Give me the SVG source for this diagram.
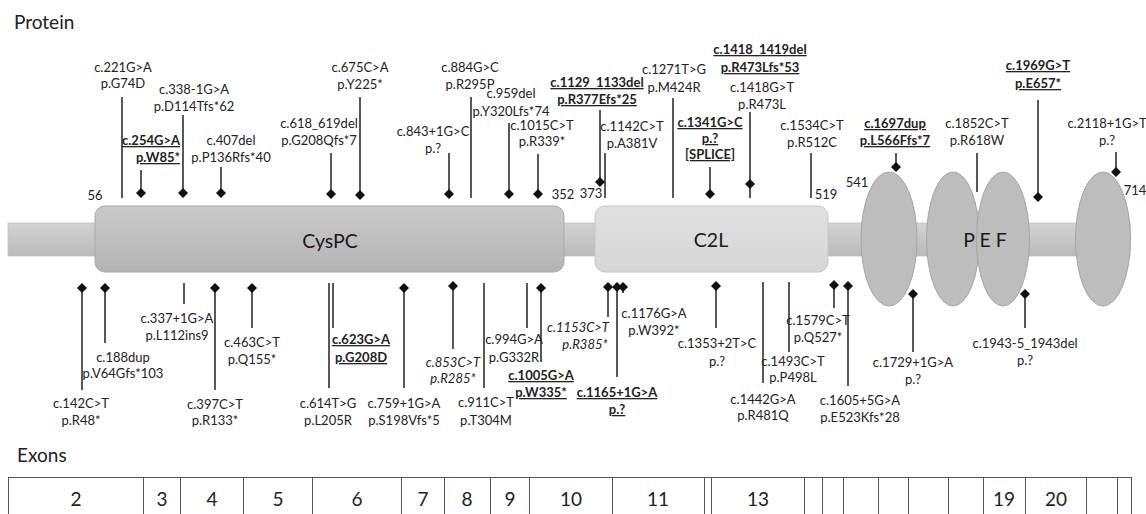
<svg xmlns="http://www.w3.org/2000/svg" xmlns:xlink="http://www.w3.org/1999/xlink" width="1146" height="514" viewBox="0 0 1146 514">
<style>
text{font-family:Lato,"Liberation Sans",sans-serif;fill:#222}
.t{font-size:13px;text-anchor:middle}
.b{font-weight:bold;text-decoration:underline}
.i{font-style:italic}
.h{font-size:19px}
.n{font-size:13px;text-anchor:middle}
.dom{font-size:19.5px;text-anchor:middle;fill:#1a1a1a}
.ex{font-size:19px;text-anchor:middle}
.ln{stroke:#222;stroke-width:1.5;fill:none}
.tb{stroke:#555;stroke-width:1;fill:none}
</style>
<defs>
<linearGradient id="gBar" x1="0" y1="0" x2="0" y2="1"><stop offset="0" stop-color="#d2d2d2"/><stop offset="1" stop-color="#bababa"/></linearGradient>
<linearGradient id="gCys" x1="0" y1="0" x2="0" y2="1"><stop offset="0" stop-color="#c9c9c9"/><stop offset="1" stop-color="#b4b4b4"/></linearGradient>
<linearGradient id="gC2" x1="0" y1="0" x2="0" y2="1"><stop offset="0" stop-color="#e0e0e0"/><stop offset="1" stop-color="#d6d6d6"/></linearGradient>
<path id="d" d="M0,-5L5,0L0,5L-5,0Z" fill="#111"/>
</defs>
<rect width="1146" height="514" fill="#fff"/>
<text class="h" x="14" y="29">Protein</text>
<text class="h" x="17" y="462">Exons</text>

<g id="protein">
<rect x="8" y="223" width="1122" height="33" fill="url(#gBar)" stroke="#c4c4c4" stroke-width="0.8"/>
<g id="cyspc"><rect x="95" y="206" width="469" height="66" rx="10" fill="url(#gCys)" stroke="#a9a9a9" stroke-width="1"/><text class="dom" x="330" y="248">CysPC</text></g>
<g id="c2l"><rect x="595" y="206" width="233" height="66" rx="10" fill="url(#gC2)" stroke="#c6c6c6" stroke-width="1"/><text class="dom" x="711" y="247">C2L</text></g>
<g id="pef">
<ellipse cx="889" cy="239" rx="28" ry="67" fill="#bdbdbd" stroke="#a5a5a5"/>
<ellipse cx="953" cy="239" rx="26.5" ry="67" fill="#bdbdbd" stroke="#a5a5a5"/>
<ellipse cx="1003" cy="239" rx="26.5" ry="67" fill="#bdbdbd" stroke="#a5a5a5"/>
<ellipse cx="1103" cy="239" rx="27.5" ry="67" fill="#bdbdbd" stroke="#a5a5a5"/>
<text class="dom" x="985" y="247">P E F</text>
</g>
<g id="positions">
<text class="n" x="95" y="200">56</text>
<text class="n" x="563" y="199">352</text>
<text class="n" x="591" y="198">373</text>
<text class="n" x="826" y="199">519</text>
<text class="n" x="857" y="187">541</text>
<text class="n" x="1135" y="195">714</text>
</g>
</g>

<g id="connectors">
<path class="ln" d="M122,97V198M141,170V193M183,115V193M221,167V193M331,153V194M360,97V195M449,153V194M471,97V198M509,123V194M538,154V194M600,110V182M605,153V198M673,98V198M710,167V194M750,112V198M811,153V198M896,153V167M977,153V192M1038,100V197M1116,152V172"/>
<path class="ln" d="M82,288V390M105,288V343M184,283V304M215,288V390M252,288V328M329,283V388M333,283V328M404,288V388M453,286V349M484,283V388M527,283V328M541,288V362M608,287V317M617,287V377M623,287V293M716,286V328M763,282V383M789,282V352M834,285V308M848,286V386M913,294V352M1025,294V328"/>
<use xlink:href="#d" x="141" y="193"/><use xlink:href="#d" x="183" y="193"/><use xlink:href="#d" x="221" y="193"/>
<use xlink:href="#d" x="331" y="194"/><use xlink:href="#d" x="360" y="195"/><use xlink:href="#d" x="449" y="194"/>
<use xlink:href="#d" x="509" y="194"/><use xlink:href="#d" x="538" y="194"/><use xlink:href="#d" x="600" y="182"/>
<use xlink:href="#d" x="710" y="194"/><use xlink:href="#d" x="750" y="184"/><use xlink:href="#d" x="896" y="167"/>
<use xlink:href="#d" x="1038" y="197"/><use xlink:href="#d" x="1116" y="172"/>
<use xlink:href="#d" x="82" y="288"/><use xlink:href="#d" x="105" y="288"/><use xlink:href="#d" x="215" y="288"/>
<use xlink:href="#d" x="252" y="288"/><use xlink:href="#d" x="404" y="288"/><use xlink:href="#d" x="453" y="286"/>
<use xlink:href="#d" x="541" y="288"/><use xlink:href="#d" x="608" y="287"/><use xlink:href="#d" x="617" y="287"/>
<use xlink:href="#d" x="623" y="287"/><use xlink:href="#d" x="716" y="286"/><use xlink:href="#d" x="834" y="285"/>
<use xlink:href="#d" x="848" y="286"/><use xlink:href="#d" x="913" y="294"/><use xlink:href="#d" x="1025" y="294"/>
</g>

<g id="top-labels">
<g id="m221"><text class="t" x="123" y="72">c.221G&gt;A</text><text class="t" x="123" y="88">p.G74D</text></g>
<g id="m254"><text class="t b" x="180" y="145" text-anchor="end" style="text-anchor:end">c.254G&gt;A</text><text class="t b" x="180" y="162" style="text-anchor:end">p.W85*</text></g>
<g id="m338"><text class="t" x="194" y="94">c.338-1G&gt;A</text><text class="t" x="194" y="111">p.D114Tfs*62</text></g>
<g id="m407"><text class="t" x="231" y="145">c.407del</text><text class="t" x="231" y="162">p.P136Rfs*40</text></g>
<g id="m618"><text class="t" x="319" y="128">c.618_619del</text><text class="t" x="319" y="145">p.G208Qfs*7</text></g>
<g id="m675"><text class="t" x="360" y="72">c.675C&gt;A</text><text class="t" x="360" y="89">p.Y225*</text></g>
<g id="m843"><text class="t" x="433" y="136">c.843+1G&gt;C</text><text class="t" x="433" y="153">p.?</text></g>
<g id="m884"><text class="t" x="470" y="72">c.884G&gt;C</text><text class="t" x="470" y="89">p.R295P</text></g>
<g id="m959"><text class="t" x="511" y="98">c.959del</text><text class="t" x="511" y="116">p.Y320Lfs*74</text></g>
<g id="m1015"><text class="t" x="542" y="130">c.1015C&gt;T</text><text class="t" x="542" y="146">p.R339*</text></g>
<g id="m1129"><text class="t b" x="597" y="87">c.1129_1133del</text><text class="t b" x="597" y="104">p.R377Efs*25</text></g>
<g id="m1142"><text class="t" x="632" y="131">c.1142C&gt;T</text><text class="t" x="632" y="148">p.A381V</text></g>
<g id="m1271"><text class="t" x="674" y="74">c.1271T&gt;G</text><text class="t" x="674" y="92">p.M424R</text></g>
<g id="m1341"><text class="t b" x="710" y="127">c.1341G&gt;C</text><text class="t b" x="710" y="143">p.?</text><text class="t b" x="710" y="159">[SPLICE]</text></g>
<g id="m1418del"><text class="t b" x="760" y="54">c.1418_1419del</text><text class="t b" x="760" y="72">p.R473Lfs*53</text></g>
<g id="m1418"><text class="t" x="762" y="92">c.1418G&gt;T</text><text class="t" x="762" y="109">p.R473L</text></g>
<g id="m1534"><text class="t" x="812" y="130">c.1534C&gt;T</text><text class="t" x="812" y="147">p.R512C</text></g>
<g id="m1697"><text class="t b" x="895" y="128">c.1697dup</text><text class="t b" x="895" y="145">p.L566Ffs*7</text></g>
<g id="m1852"><text class="t" x="977" y="128">c.1852C&gt;T</text><text class="t" x="977" y="145">p.R618W</text></g>
<g id="m1969"><text class="t b" x="1038" y="70">c.1969G&gt;T</text><text class="t b" x="1038" y="88">p.E657*</text></g>
<g id="m2118"><text class="t" x="1107" y="128">c.2118+1G&gt;T</text><text class="t" x="1107" y="145">p.?</text></g>
</g>

<g id="bottom-labels">
<g id="m142"><text class="t" x="81" y="408">c.142C&gt;T</text><text class="t" x="81" y="425">p.R48*</text></g>
<g id="m188"><text class="t" x="123" y="362">c.188dup</text><text class="t" x="123" y="378">p.V64Gfs*103</text></g>
<g id="m337"><text class="t" x="177" y="323">c.337+1G&gt;A</text><text class="t" x="177" y="340">p.L112ins9</text></g>
<g id="m397"><text class="t" x="215" y="409">c.397C&gt;T</text><text class="t" x="215" y="425">p.R133*</text></g>
<g id="m463"><text class="t" x="252" y="347">c.463C&gt;T</text><text class="t" x="252" y="364">p.Q155*</text></g>
<g id="m614"><text class="t" x="328" y="408">c.614T&gt;G</text><text class="t" x="328" y="425">p.L205R</text></g>
<g id="m623"><text class="t b" x="361" y="344">c.623G&gt;A</text><text class="t b" x="361" y="362">p.G208D</text></g>
<g id="m759"><text class="t" x="404" y="408">c.759+1G&gt;A</text><text class="t" x="404" y="425">p.S198Vfs*5</text></g>
<g id="m853"><text class="t i" x="453" y="367">c.853C&gt;T</text><text class="t i" x="453" y="383">p.R285*</text></g>
<g id="m911"><text class="t" x="486" y="407">c.911C&gt;T</text><text class="t" x="486" y="425">p.T304M</text></g>
<g id="m994"><text class="t" x="514" y="344">c.994G&gt;A</text><text class="t" x="514" y="362">p.G332R</text></g>
<g id="m1005"><text class="t b" x="541" y="380">c.1005G&gt;A</text><text class="t b" x="541" y="397">p.W335*</text></g>
<g id="m1153"><text class="t i" x="578" y="332">c.1153C&gt;T</text><text class="t i" x="585" y="349">p.R385*</text></g>
<g id="m1165"><text class="t b" x="617" y="397">c.1165+1G&gt;A</text><text class="t b" x="617" y="414">p.?</text></g>
<g id="m1176"><text class="t" x="654" y="318">c.1176G&gt;A</text><text class="t" x="654" y="335">p.W392*</text></g>
<g id="m1353"><text class="t" x="717" y="348">c.1353+2T&gt;C</text><text class="t" x="717" y="366">p.?</text></g>
<g id="m1442"><text class="t" x="763" y="404">c.1442G&gt;A</text><text class="t" x="763" y="420">p.R481Q</text></g>
<g id="m1493"><text class="t" x="793" y="366">c.1493C&gt;T</text><text class="t" x="793" y="382">p.P498L</text></g>
<g id="m1579"><text class="t" x="818" y="325">c.1579C&gt;T</text><text class="t" x="818" y="342">p.Q527*</text></g>
<g id="m1605"><text class="t" x="860" y="405">c.1605+5G&gt;A</text><text class="t" x="860" y="422">p.E523Kfs*28</text></g>
<g id="m1729"><text class="t" x="913" y="367">c.1729+1G&gt;A</text><text class="t" x="913" y="384">p.?</text></g>
<g id="m1943"><text class="t" x="1025" y="348">c.1943-5_1943del</text><text class="t" x="1025" y="365">p.?</text></g>
</g>

<g id="exons">
<path class="tb" d="M8,477.5H1131M8.5,477V514M143.5,477V514M180.5,477V514M243.5,477V514M312.5,477V514M401.5,477V514M444.5,477V514M490.5,477V514M529.5,477V514M612.5,477V514M704.5,477V514M711.5,477V514M804.5,477V514M822.5,477V514M843.5,477V514M878.5,477V514M908.5,477V514M948.5,477V514M983.5,477V514M1025.5,477V514M1086.5,477V514M1117.5,477V514M1131.5,477V514"/>
<text class="ex" x="76" y="506">2</text>
<text class="ex" x="162" y="506">3</text>
<text class="ex" x="212" y="506">4</text>
<text class="ex" x="278" y="506">5</text>
<text class="ex" x="357" y="506">6</text>
<text class="ex" x="423" y="506">7</text>
<text class="ex" x="467" y="506">8</text>
<text class="ex" x="510" y="506">9</text>
<text class="ex" x="571" y="506">10</text>
<text class="ex" x="658" y="506">11</text>
<text class="ex" x="758" y="506">13</text>
<text class="ex" x="1004" y="506">19</text>
<text class="ex" x="1056" y="506">20</text>
</g>
</svg>
